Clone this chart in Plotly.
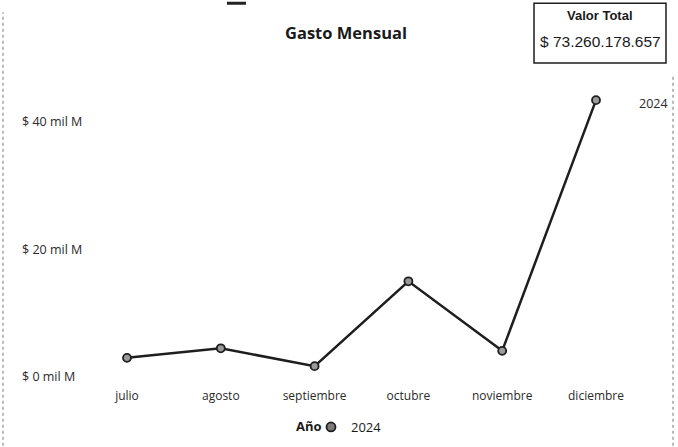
import plotly.graph_objects as go

months = ["julio", "agosto", "septiembre", "octubre", "noviembre", "diciembre"]
gasto_mil_m = [3.0, 4.5, 1.7, 15.0, 4.1, 43.4]
series_name = "2024"
y_tick_vals = [0, 20, 40]
y_tick_text = ["$ 0 mil M", "$ 20 mil M", "$ 40 mil M"]
total_label = "$ 73.260.178.657"

W, H = 678, 447
L, R, T, B = 19, 6, 77, 69
pw, ph = W - L - R, H - T - B
X0_PX, X_STEP = 127, 93.8

def px_x(p):
    return (p - L) / pw

def px_y(p):
    return (H - B - p) / ph

fig = go.Figure()
fig.add_trace(go.Scatter(
    x=months, y=gasto_mil_m, mode="lines+markers", name=series_name,
    line=dict(color="#1e1e1e", width=2.5),
    marker=dict(size=8, color="#9a9a9a", line=dict(color="#1e1e1e", width=1.8)),
    showlegend=False, cliponaxis=False,
))
fig.add_trace(go.Scatter(
    x=[None], y=[None], mode="markers", name=series_name,
    marker=dict(size=9, color="#7a7a7a", line=dict(color="#1e1e1e", width=1.8)),
))

fig.update_layout(
    width=W, height=H,
    margin=dict(l=L, r=R, t=T, b=B),
    paper_bgcolor="white", plot_bgcolor="white",
    font=dict(family="Open Sans, DejaVu Sans, sans-serif", size=12, color="#333333"),
    title=dict(text="<b>Gasto Mensual</b>", x=346 / W, xanchor="center",
               y=1 - 33 / H, yanchor="middle",
               font=dict(family="Open Sans, sans-serif", size=16.5, color="#1a1a1a")),
    xaxis=dict(type="category", range=[(L - X0_PX) / X_STEP, (W - R - X0_PX) / X_STEP],
               showgrid=False, zeroline=False, showline=False, ticks="",
               tickfont=dict(size=12, color="#2a2a2a"), ticklabelstandoff=10),
    yaxis=dict(range=[0, ph / 6.4], tickvals=y_tick_vals, ticktext=y_tick_text,
               ticklabelposition="inside", ticklabeloverflow="allow", showgrid=False,
               zeroline=False, showline=False, ticks="",
               tickfont=dict(size=12.5, color="#2a2a2a")),
    showlegend=True,
    legend=dict(orientation="h", x=px_x(311), xanchor="left", y=px_y(427), yanchor="middle",
                font=dict(size=13, color="#1a1a1a"), itemwidth=30,
                bgcolor="rgba(0,0,0,0)"),
)

fig.add_annotation(xref="paper", yref="paper", x=px_x(309), y=px_y(427), text="<b>Año</b>",
                   showarrow=False, xanchor="center", yanchor="middle",
                   font=dict(size=13, color="#1a1a1a"))

fig.add_annotation(x=months[-1], y=gasto_mil_m[-1], text=series_name, showarrow=False,
                   xshift=57, yshift=-3, font=dict(size=12.5, color="#2a2a2a"))

# Valor Total card
fig.add_shape(type="rect", xref="paper", yref="paper",
              x0=px_x(534), x1=px_x(666), y0=px_y(63), y1=px_y(3),
              line=dict(color="#1e1e1e", width=1.5), fillcolor="white")
fig.add_annotation(xref="paper", yref="paper", x=px_x(600), y=px_y(15), text="<b>Valor Total</b>",
                   showarrow=False, xanchor="center", yanchor="middle",
                   font=dict(family="Liberation Sans, Arial, sans-serif", size=13, color="#1a1a1a"))
fig.add_annotation(xref="paper", yref="paper", x=px_x(600), y=px_y(41), text=total_label,
                   showarrow=False, xanchor="center", yanchor="middle",
                   font=dict(family="Liberation Sans, Arial, sans-serif", size=15.5, color="#1a1a1a"))

# scan edge lines
fig.add_shape(type="line", xref="paper", yref="paper", x0=px_x(3), x1=px_x(3), y0=px_y(447), y1=px_y(12),
              line=dict(color="#777777", width=1, dash="dot"))
fig.add_shape(type="line", xref="paper", yref="paper", x0=px_x(673), x1=px_x(673), y0=px_y(447), y1=px_y(75),
              line=dict(color="#777777", width=1, dash="dot"))
fig.add_shape(type="line", xref="paper", yref="paper", x0=px_x(227), x1=px_x(246), y0=px_y(3), y1=px_y(3),
              line=dict(color="#222222", width=3))

fig.write_html("out.html", config={"displayModeBar": False},
               post_script="document.body.style.margin='0';")
